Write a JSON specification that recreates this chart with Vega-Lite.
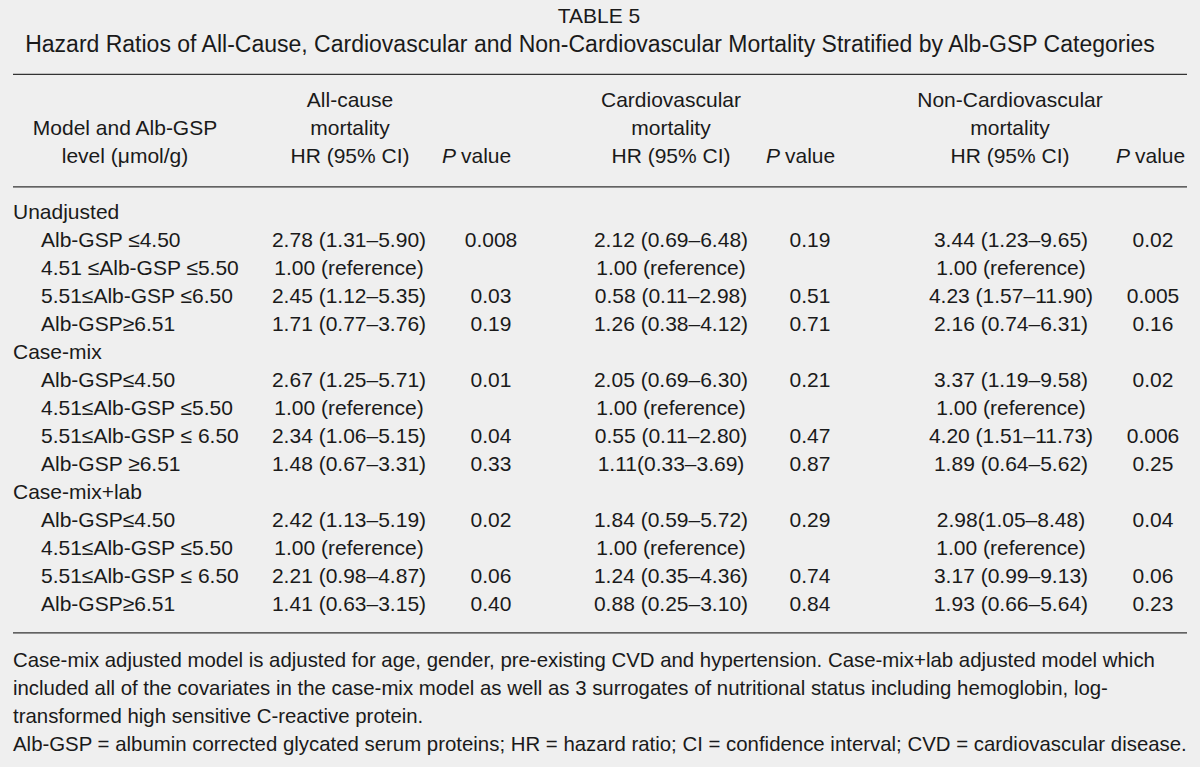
{
  "$schema": "https://vega.github.io/schema/vega-lite/v6.json",
  "width": 1200,
  "height": 767,
  "padding": 0,
  "autosize": {"type": "none"},
  "background": "#efefef",
  "config": {
    "view": {"stroke": null},
    "text": {"font": "Liberation Sans", "fontSize": 21, "color": "#1a1a1a"}
  },
  "datasets": {
    "rules": [{"row": -4.97}, {"row": -0.95}, {"row": 14.98}],
    "title": [{"row": -7, "col": 7, "text": "TABLE 5"}],
    "subtitle": [{"row": -6, "col": 8, "text": "Hazard Ratios of All-Cause, Cardiovascular and Non-Cardiovascular Mortality Stratified by Alb-GSP Categories"}],
    "header": [
      {"row": -3, "col": 0, "text": "Model and Alb-GSP"},
      {"row": -2, "col": 0, "text": "level (μmol/g)"},
      {"row": -4, "col": 1, "text": "All-cause"},
      {"row": -3, "col": 1, "text": "mortality"},
      {"row": -2, "col": 1, "text": "HR (95% CI)"},
      {"row": -4, "col": 2, "text": "Cardiovascular"},
      {"row": -3, "col": 2, "text": "mortality"},
      {"row": -2, "col": 2, "text": "HR (95% CI)"},
      {"row": -4, "col": 3, "text": "Non-Cardiovascular"},
      {"row": -3, "col": 3, "text": "mortality"},
      {"row": -2, "col": 3, "text": "HR (95% CI)"}
    ],
    "pvalue": [
      {"row": -2, "col": 4, "italic": "P", "rest": "value"},
      {"row": -2, "col": 5, "italic": "P", "rest": "value"},
      {"row": -2, "col": 6, "italic": "P", "rest": "value"}
    ],
    "labels": [
      {"row": 0, "col": 0, "text": "Unadjusted"},
      {"row": 1, "col": 1, "text": "Alb-GSP ≤4.50"},
      {"row": 2, "col": 1, "text": "4.51 ≤Alb-GSP ≤5.50"},
      {"row": 3, "col": 1, "text": "5.51≤Alb-GSP ≤6.50"},
      {"row": 4, "col": 1, "text": "Alb-GSP≥6.51"},
      {"row": 5, "col": 0, "text": "Case-mix"},
      {"row": 6, "col": 1, "text": "Alb-GSP≤4.50"},
      {"row": 7, "col": 1, "text": "4.51≤Alb-GSP ≤5.50"},
      {"row": 8, "col": 1, "text": "5.51≤Alb-GSP ≤ 6.50"},
      {"row": 9, "col": 1, "text": "Alb-GSP ≥6.51"},
      {"row": 10, "col": 0, "text": "Case-mix+lab"},
      {"row": 11, "col": 1, "text": "Alb-GSP≤4.50"},
      {"row": 12, "col": 1, "text": "4.51≤Alb-GSP ≤5.50"},
      {"row": 13, "col": 1, "text": "5.51≤Alb-GSP ≤ 6.50"},
      {"row": 14, "col": 1, "text": "Alb-GSP≥6.51"}
    ],
    "notes": [
      {"row": 16, "col": 0, "text": "Case-mix adjusted model is adjusted for age, gender, pre-existing CVD and hypertension. Case-mix+lab adjusted model which"},
      {"row": 17, "col": 0, "text": "included all of the covariates in the case-mix model as well as 3 surrogates of nutritional status including hemoglobin, log-"},
      {"row": 18, "col": 0, "text": "transformed high sensitive C-reactive protein."},
      {"row": 19, "col": 0, "text": "Alb-GSP = albumin corrected glycated serum proteins; HR = hazard ratio; CI = confidence interval; CVD = cardiovascular disease."}
    ],
    "cells": [
      {"row": 1, "col": 2, "text": "2.78 (1.31–5.90)"},
      {"row": 1, "col": 3, "text": "0.008"},
      {"row": 1, "col": 4, "text": "2.12 (0.69–6.48)"},
      {"row": 1, "col": 5, "text": "0.19"},
      {"row": 1, "col": 6, "text": "3.44 (1.23–9.65)"},
      {"row": 1, "col": 7, "text": "0.02"},
      {"row": 2, "col": 2, "text": "1.00 (reference)"},
      {"row": 2, "col": 4, "text": "1.00 (reference)"},
      {"row": 2, "col": 6, "text": "1.00 (reference)"},
      {"row": 3, "col": 2, "text": "2.45 (1.12–5.35)"},
      {"row": 3, "col": 3, "text": "0.03"},
      {"row": 3, "col": 4, "text": "0.58 (0.11–2.98)"},
      {"row": 3, "col": 5, "text": "0.51"},
      {"row": 3, "col": 6, "text": "4.23 (1.57–11.90)"},
      {"row": 3, "col": 7, "text": "0.005"},
      {"row": 4, "col": 2, "text": "1.71 (0.77–3.76)"},
      {"row": 4, "col": 3, "text": "0.19"},
      {"row": 4, "col": 4, "text": "1.26 (0.38–4.12)"},
      {"row": 4, "col": 5, "text": "0.71"},
      {"row": 4, "col": 6, "text": "2.16 (0.74–6.31)"},
      {"row": 4, "col": 7, "text": "0.16"},
      {"row": 6, "col": 2, "text": "2.67 (1.25–5.71)"},
      {"row": 6, "col": 3, "text": "0.01"},
      {"row": 6, "col": 4, "text": "2.05 (0.69–6.30)"},
      {"row": 6, "col": 5, "text": "0.21"},
      {"row": 6, "col": 6, "text": "3.37 (1.19–9.58)"},
      {"row": 6, "col": 7, "text": "0.02"},
      {"row": 7, "col": 2, "text": "1.00 (reference)"},
      {"row": 7, "col": 4, "text": "1.00 (reference)"},
      {"row": 7, "col": 6, "text": "1.00 (reference)"},
      {"row": 8, "col": 2, "text": "2.34 (1.06–5.15)"},
      {"row": 8, "col": 3, "text": "0.04"},
      {"row": 8, "col": 4, "text": "0.55 (0.11–2.80)"},
      {"row": 8, "col": 5, "text": "0.47"},
      {"row": 8, "col": 6, "text": "4.20 (1.51–11.73)"},
      {"row": 8, "col": 7, "text": "0.006"},
      {"row": 9, "col": 2, "text": "1.48 (0.67–3.31)"},
      {"row": 9, "col": 3, "text": "0.33"},
      {"row": 9, "col": 4, "text": "1.11(0.33–3.69)"},
      {"row": 9, "col": 5, "text": "0.87"},
      {"row": 9, "col": 6, "text": "1.89 (0.64–5.62)"},
      {"row": 9, "col": 7, "text": "0.25"},
      {"row": 11, "col": 2, "text": "2.42 (1.13–5.19)"},
      {"row": 11, "col": 3, "text": "0.02"},
      {"row": 11, "col": 4, "text": "1.84 (0.59–5.72)"},
      {"row": 11, "col": 5, "text": "0.29"},
      {"row": 11, "col": 6, "text": "2.98(1.05–8.48)"},
      {"row": 11, "col": 7, "text": "0.04"},
      {"row": 12, "col": 2, "text": "1.00 (reference)"},
      {"row": 12, "col": 4, "text": "1.00 (reference)"},
      {"row": 12, "col": 6, "text": "1.00 (reference)"},
      {"row": 13, "col": 2, "text": "2.21 (0.98–4.87)"},
      {"row": 13, "col": 3, "text": "0.06"},
      {"row": 13, "col": 4, "text": "1.24 (0.35–4.36)"},
      {"row": 13, "col": 5, "text": "0.74"},
      {"row": 13, "col": 6, "text": "3.17 (0.99–9.13)"},
      {"row": 13, "col": 7, "text": "0.06"},
      {"row": 14, "col": 2, "text": "1.41 (0.63–3.15)"},
      {"row": 14, "col": 3, "text": "0.40"},
      {"row": 14, "col": 4, "text": "0.88 (0.25–3.10)"},
      {"row": 14, "col": 5, "text": "0.84"},
      {"row": 14, "col": 6, "text": "1.93 (0.66–5.64)"},
      {"row": 14, "col": 7, "text": "0.23"}
    ]
  },
  "layer": [
    {
      "data": {"name": "rules"},
      "mark": {"type": "rule", "color": "#333333", "strokeWidth": 1.3},
      "encoding": {
        "x": {"datum": 0, "type": "quantitative", "scale": {"domain": [0, 1, 2, 3, 4, 5, 6, 7, 8], "range": [13, 41, 349, 491, 671, 810, 1011, 1153, 1187], "nice": false, "zero": false}, "axis": null},
        "x2": {"datum": 8},
        "y": {"field": "row", "type": "quantitative", "scale": {"domain": [-7.625, 19.768], "reverse": true, "nice": false, "zero": false}, "axis": null}
      }
    },
    {
      "data": {"name": "labels"},
      "mark": {"type": "text", "align": "left", "baseline": "middle"},
      "encoding": {
        "x": {"field": "col", "type": "quantitative", "scale": {"domain": [0, 1, 2, 3, 4, 5, 6, 7, 8], "range": [13, 41, 349, 491, 671, 810, 1011, 1153, 1187], "nice": false, "zero": false}, "axis": null},
        "y": {"field": "row", "type": "quantitative", "scale": {"domain": [-7.625, 19.768], "reverse": true, "nice": false, "zero": false}, "axis": null},
        "text": {"field": "text", "type": "nominal"}
      }
    },
    {
      "data": {"name": "notes"},
      "mark": {"type": "text", "align": "left", "baseline": "middle", "fontSize": 20.4},
      "encoding": {
        "x": {"field": "col", "type": "quantitative", "scale": {"domain": [0, 1, 2, 3, 4, 5, 6, 7, 8], "range": [13, 41, 349, 491, 671, 810, 1011, 1153, 1187], "nice": false, "zero": false}, "axis": null},
        "y": {"field": "row", "type": "quantitative", "scale": {"domain": [-7.625, 19.768], "reverse": true, "nice": false, "zero": false}, "axis": null},
        "text": {"field": "text", "type": "nominal"}
      }
    },
    {
      "data": {"name": "cells"},
      "mark": {"type": "text", "align": "center", "baseline": "middle"},
      "encoding": {
        "x": {"field": "col", "type": "quantitative", "scale": {"domain": [0, 1, 2, 3, 4, 5, 6, 7, 8], "range": [13, 41, 349, 491, 671, 810, 1011, 1153, 1187], "nice": false, "zero": false}, "axis": null},
        "y": {"field": "row", "type": "quantitative", "scale": {"domain": [-7.625, 19.768], "reverse": true, "nice": false, "zero": false}, "axis": null},
        "text": {"field": "text", "type": "nominal"}
      }
    },
    {
      "data": {"name": "title"},
      "mark": {"type": "text", "align": "center", "baseline": "middle"},
      "encoding": {
        "x": {"field": "col", "type": "quantitative", "scale": {"domain": [0, 1, 2, 3, 4, 5, 6, 7, 8], "range": [125, 350, 671, 1010, 457, 781, 1131, 599, 590], "nice": false, "zero": false}, "axis": null},
        "y": {"field": "row", "type": "quantitative", "scale": {"domain": [-7.625, 19.768], "reverse": true, "nice": false, "zero": false}, "axis": null},
        "text": {"field": "text", "type": "nominal"}
      }
    },
    {
      "data": {"name": "subtitle"},
      "mark": {"type": "text", "align": "center", "baseline": "middle", "fontSize": 23},
      "encoding": {
        "x": {"field": "col", "type": "quantitative", "scale": {"domain": [0, 1, 2, 3, 4, 5, 6, 7, 8], "range": [125, 350, 671, 1010, 457, 781, 1131, 599, 590], "nice": false, "zero": false}, "axis": null},
        "y": {"field": "row", "type": "quantitative", "scale": {"domain": [-7.625, 19.768], "reverse": true, "nice": false, "zero": false}, "axis": null},
        "text": {"field": "text", "type": "nominal"}
      }
    },
    {
      "data": {"name": "header"},
      "mark": {"type": "text", "align": "center", "baseline": "middle"},
      "encoding": {
        "x": {"field": "col", "type": "quantitative", "scale": {"domain": [0, 1, 2, 3, 4, 5, 6, 7, 8], "range": [125, 350, 671, 1010, 457, 781, 1131, 599, 590], "nice": false, "zero": false}, "axis": null},
        "y": {"field": "row", "type": "quantitative", "scale": {"domain": [-7.625, 19.768], "reverse": true, "nice": false, "zero": false}, "axis": null},
        "text": {"field": "text", "type": "nominal"}
      }
    },
    {
      "data": {"name": "pvalue"},
      "mark": {"type": "text", "align": "right", "baseline": "middle", "fontStyle": "italic", "dx": -1},
      "encoding": {
        "x": {"field": "col", "type": "quantitative", "scale": {"domain": [0, 1, 2, 3, 4, 5, 6, 7, 8], "range": [125, 350, 671, 1010, 457, 781, 1131, 599, 590], "nice": false, "zero": false}, "axis": null},
        "y": {"field": "row", "type": "quantitative", "scale": {"domain": [-7.625, 19.768], "reverse": true, "nice": false, "zero": false}, "axis": null},
        "text": {"field": "italic", "type": "nominal"}
      }
    },
    {
      "data": {"name": "pvalue"},
      "mark": {"type": "text", "align": "left", "baseline": "middle", "dx": 4},
      "encoding": {
        "x": {"field": "col", "type": "quantitative", "scale": {"domain": [0, 1, 2, 3, 4, 5, 6, 7, 8], "range": [125, 350, 671, 1010, 457, 781, 1131, 599, 590], "nice": false, "zero": false}, "axis": null},
        "y": {"field": "row", "type": "quantitative", "scale": {"domain": [-7.625, 19.768], "reverse": true, "nice": false, "zero": false}, "axis": null},
        "text": {"field": "rest", "type": "nominal"}
      }
    }
  ],
  "resolve": {"scale": {"x": "independent"}}
}
